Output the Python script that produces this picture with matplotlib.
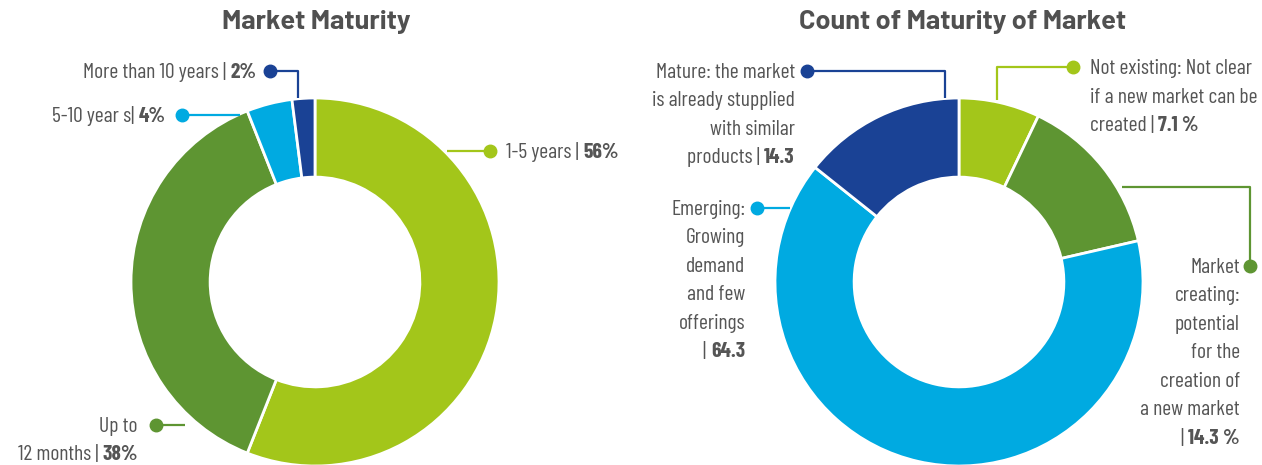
import matplotlib
matplotlib.use('Agg')
import matplotlib.pyplot as plt
from matplotlib import font_manager

# data
left_labels = ['1-5 years', 'Up to 12 months', '5-10 years', 'More than 10 years']
left_values = [56, 38, 4, 2]
right_labels = ['Not existing', 'Market creating', 'Emerging', 'Mature']
right_values = [7.1, 14.3, 64.3, 14.3]

lime = '#A3C61A'
green = '#5E9532'
cyan = '#00AAE1'
navy = '#1A4295'
colors = [lime, green, cyan, navy]
txt = '#555555'

names = {f.name for f in font_manager.fontManager.ttflist}


def pick(cands):
    for c in cands:
        if c in names:
            return c
    return 'DejaVu Sans'


fam = pick(['Barlow Condensed', 'Roboto Condensed', 'Asap Condensed', 'Liberation Sans Narrow'])
title_fam = pick(['Barlow', 'Barlow Semi Condensed', 'Roboto', 'Lato'])
plt.rcParams['font.family'] = [fam, 'DejaVu Sans']

W, H = 1262, 465
R = 184.0
fig = plt.figure(figsize=(W / 100, H / 100), dpi=100)
FS = 15.5


def make_ax(cx, cy):
    # axes where 1 data unit == R pixels, donut centre at (cx, cy) px from top-left
    xl, xr = -1.8, 1.8
    yb, yt = -1.05, 1.5
    left = (cx + xl * R) / W
    bottom = (H - cy + yb * R) / H
    ax = fig.add_axes([left, bottom, (xr - xl) * R / W, (yt - yb) * R / H])
    return ax, (xl, xr, yb, yt)


def donut(ax, lims, values):
    ax.pie(values, colors=colors, startangle=90, counterclock=False, radius=1,
           wedgeprops=dict(width=0.43, edgecolor='white', linewidth=2))
    ax.set_xlim(lims[0], lims[1])
    ax.set_ylim(lims[2], lims[3])
    ax.set_aspect('equal')
    ax.axis('off')


def leader(ax, pts, c):
    xs = [p[0] for p in pts]
    ys = [p[1] for p in pts]
    ax.plot(xs, ys, color=c, lw=1.6, solid_capstyle='butt', zorder=3)
    ax.plot(xs[-1], ys[-1], 'o', color=c, ms=9, zorder=4)


def label(ax, x, y, lines, bold, ha, dy=0.155):
    kw = dict(color=txt, fontsize=FS, fontweight='normal')
    bkw = dict(color=txt, fontsize=FS, fontweight='bold')
    for i, ln in enumerate(lines):
        yy = y - i * dy
        if i < len(lines) - 1:
            ax.text(x, yy, ln, ha=ha, va='center', **kw)
            continue
        if ha == 'left':
            t = ax.text(x, yy, ln, ha='left', va='center', **kw)
            ax.annotate(bold, xy=(1, 0), xycoords=t, ha='left', va='bottom', **bkw)
        else:
            b = ax.text(x, yy, bold, ha='right', va='center', **bkw)
            ax.annotate(ln, xy=(0, 0), xycoords=b, ha='right', va='bottom', **kw)


axl, lims = make_ax(315, 282)
donut(axl, lims, left_values)
leader(axl, [(0.717, 0.712), (0.951, 0.712)], lime)
label(axl, 1.038, 0.705, ['1-5 years | '], f'{left_values[0]}%', 'left')
leader(axl, [(-0.092, 1.0), (-0.092, 1.147), (-0.245, 1.147)], navy)
label(axl, -0.32, 1.14, ['More than 10 years | '], f'{left_values[3]}%', 'right')
leader(axl, [(-0.408, 0.908), (-0.723, 0.908)], cyan)
label(axl, -0.81, 0.9, ['5-10 year s| '], f'{left_values[2]}%', 'right')
leader(axl, [(-0.707, -0.777), (-0.864, -0.777)], green)
label(axl, -0.962, -0.785, ['Up to', '12 months | '], f'{left_values[1]}%', 'right')

axr, lims = make_ax(959, 282)
donut(axr, lims, right_values)
leader(axr, [(0.207, 0.989), (0.207, 1.168), (0.62, 1.168)], lime)
label(axr, 0.712, 1.16, ['Not existing: Not clear', 'if a new market can be',
                         'created | '], f'{right_values[0]} %', 'left')
leader(axr, [(0.886, 0.516), (1.582, 0.516), (1.582, 0.087)], green)
label(axr, 1.527, 0.08, ['Market', 'creating:', 'potential', 'for the',
                         'creation of', 'a new market', '| '], f'{right_values[1]} %', 'right')
leader(axr, [(-0.918, 0.402), (-1.098, 0.402)], cyan)
label(axr, -1.163, 0.395, ['Emerging:', 'Growing', 'demand', 'and few',
                           'offerings', '| '], f'{right_values[2]}', 'right')
leader(axr, [(-0.076, 1.0), (-0.076, 1.147), (-0.826, 1.147)], navy)
label(axr, -0.891, 1.14, ['Mature: the market', 'is already stupplied',
                          'with similar', 'products | '], f'{right_values[3]}', 'right')

for cx, title in [(316, 'Market Maturity'), (963, 'Count of Maturity of Market')]:
    fig.text(cx / W, 1 - 22 / H, title, ha='center', va='center', family=title_fam,
             fontsize=19.5, fontweight='bold', color='#505050')

fig.savefig('out.png', dpi=100)
